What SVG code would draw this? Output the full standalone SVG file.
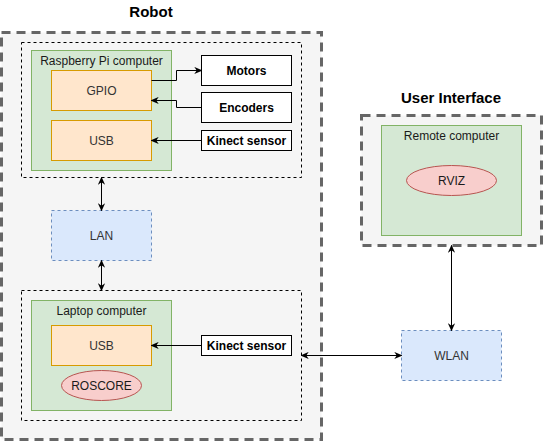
<svg xmlns="http://www.w3.org/2000/svg" width="543" height="442" viewBox="0 0 543 442">
<defs>
<marker id="arr" viewBox="0 0 10 10" refX="9" refY="5" markerWidth="8" markerHeight="8" orient="auto-start-reverse" markerUnits="userSpaceOnUse">
<path d="M0,0.5 L10,5 L0,9.5 L3,5 Z" fill="#000"/>
</marker>
</defs>
<style>
text{font-family:"Liberation Sans",Arial,sans-serif;font-size:12px;text-anchor:middle;dominant-baseline:central;fill:#1a1a1a}
.title{font-size:15px;font-weight:bold;fill:#000}
.outer{fill:#f5f5f5;stroke:#666;stroke-width:3;stroke-dasharray:9 6}
.inner{fill:none;stroke:#000;stroke-width:1;stroke-dasharray:3 3}
.green{fill:#d5e8d4;stroke:#82b366}
.orange{fill:#ffe6cc;stroke:#d79b00}
.white{fill:#fff;stroke:#000}
.blue{fill:#dae8fc;stroke:#6c8ebf;stroke-dasharray:3 3}
.red{fill:#f8cecc;stroke:#b85450}
.lbl{fill:#333}
.bold{font-weight:bold;fill:#000}
.conn{fill:none;stroke:#000;stroke-width:1}
</style>
<g id="robot">
<text class="title" x="151" y="11">Robot</text>
<rect class="outer" x="1.5" y="32.5" width="320" height="407"/>
</g>
<g id="rpi-group"><rect class="inner" x="21.5" y="42.5" width="280" height="135"/></g>
<g id="rpi">
<rect class="green" x="31.5" y="50.5" width="140" height="120"/>
<text x="101.5" y="61">Raspberry Pi computer</text>
</g>
<g id="gpio"><rect class="orange" x="51.5" y="70.5" width="100" height="40"/><text class="lbl" x="101.5" y="90.5">GPIO</text></g>
<g id="usb1"><rect class="orange" x="51.5" y="120.5" width="100" height="40"/><text class="lbl" x="101.5" y="140.5">USB</text></g>
<g id="motors"><rect class="white" x="201.5" y="55.5" width="90" height="30"/><text class="bold" x="246.5" y="70.5">Motors</text></g>
<g id="encoders"><rect class="white" x="201.5" y="92.5" width="90" height="30"/><text class="bold" x="246.5" y="107.5">Encoders</text></g>
<g id="kinect1"><rect class="white" x="201.5" y="130.5" width="90" height="20"/><text class="bold" x="246.5" y="140.5">Kinect sensor</text></g>
<g id="lan"><rect class="blue" x="51.5" y="210.5" width="100" height="50"/><text class="lbl" x="101.5" y="235.5">LAN</text></g>
<g id="laptop-group"><rect class="inner" x="21.5" y="290.5" width="280" height="130"/></g>
<g id="laptop">
<rect class="green" x="31.5" y="300.5" width="140" height="110"/>
<text x="101.5" y="311">Laptop computer</text>
</g>
<g id="usb2"><rect class="orange" x="51.5" y="325.5" width="100" height="40"/><text class="lbl" x="101.5" y="345.5">USB</text></g>
<g id="roscore"><ellipse class="red" cx="101.5" cy="385.5" rx="40" ry="15"/><text x="101.5" y="385.5">ROSCORE</text></g>
<g id="kinect2"><rect class="white" x="201.5" y="335.5" width="90" height="20"/><text class="bold" x="246.5" y="345.5">Kinect sensor</text></g>
<g id="ui">
<text class="title" x="451" y="97">User Interface</text>
<rect class="outer" x="361.5" y="115.5" width="180" height="130"/>
</g>
<g id="remote">
<rect class="green" x="381.5" y="125.5" width="140" height="110"/>
<text x="451.5" y="136">Remote computer</text>
</g>
<g id="rviz"><ellipse class="red" cx="451.5" cy="180.5" rx="45" ry="15"/><text x="451.5" y="180.5">RVIZ</text></g>
<g id="wlan"><rect class="blue" x="401.5" y="330.5" width="100" height="50"/><text class="lbl" x="451.5" y="355.5">WLAN</text></g>
<g id="connectors">
<path class="conn" d="M151.5,80.5 H176.5 V70.5 H201.5" marker-end="url(#arr)"/>
<path class="conn" d="M201.5,107.5 H176.5 V100.5 H151.5" marker-end="url(#arr)"/>
<path class="conn" d="M201.5,140.5 H151.5" marker-end="url(#arr)"/>
<path class="conn" d="M101.5,177.5 V210.5" marker-start="url(#arr)" marker-end="url(#arr)"/>
<path class="conn" d="M101.5,260.5 V290.5" marker-start="url(#arr)" marker-end="url(#arr)"/>
<path class="conn" d="M201.5,345.5 H151.5" marker-end="url(#arr)"/>
<path class="conn" d="M301.5,355.5 H401.5" marker-start="url(#arr)" marker-end="url(#arr)"/>
<path class="conn" d="M451.5,245.5 V330.5" marker-start="url(#arr)" marker-end="url(#arr)"/>
</g>
</svg>
